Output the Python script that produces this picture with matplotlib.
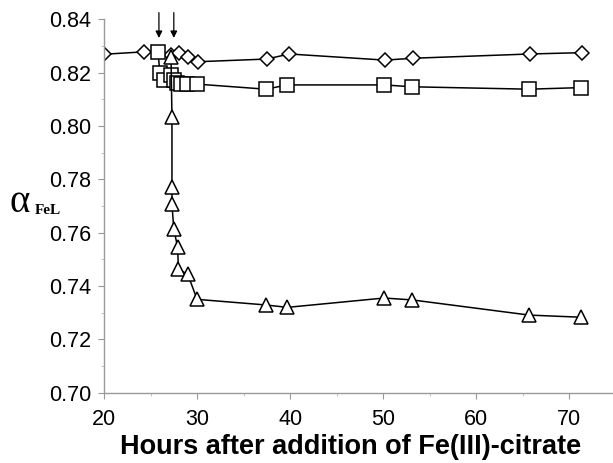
import matplotlib
matplotlib.use("Agg")
import matplotlib.pyplot as plt
from matplotlib.ticker import MultipleLocator

# ─── Data ────────────────────────────────────────────────────────────────────
diamond_x = [20.0, 24.3, 27.2, 28.1, 29.0, 30.1, 37.5, 39.9, 50.2, 53.2, 65.8, 71.4]
diamond_y = [0.8269, 0.8278, 0.8265, 0.8273, 0.8258, 0.8241, 0.8251, 0.8270,
             0.8247, 0.8254, 0.8270, 0.8275]

square_x = [25.8, 26.0, 26.4, 27.2, 27.5, 27.8, 28.3, 28.9, 30.0,
            37.4, 39.7, 50.1, 53.1, 65.7, 71.3]
square_y = [0.8278, 0.8200, 0.8172, 0.8191, 0.8172, 0.8162, 0.8157, 0.8157, 0.8157,
            0.8138, 0.8154, 0.8154, 0.8147, 0.8138, 0.8144]

triangle_x = [27.2, 27.3, 27.3, 27.3, 27.5, 27.9, 28.0, 29.0, 30.0,
              37.4, 39.7, 50.1, 53.1, 65.7, 71.3]
triangle_y = [0.8258, 0.8035, 0.7770, 0.7706, 0.7613, 0.7547, 0.7463, 0.7444, 0.7350,
              0.7329, 0.7320, 0.7355, 0.7348, 0.7291, 0.7283]

arrow_x = [25.9, 27.5]
xticks = [20, 30, 40, 50, 60, 70]
yticks = [0.70, 0.72, 0.74, 0.76, 0.78, 0.80, 0.82, 0.84]

# ─── Plot ────────────────────────────────────────────────────────────────────
plt.rcParams["font.family"] = ["Liberation Sans", "DejaVu Sans"]

fig = plt.figure(figsize=(6.13, 4.63), dpi=100)
ax = fig.add_axes([0.1697, 0.1518, 0.8303, 0.8065])

style = dict(color="black", lw=1.1, mfc="white", mec="black", mew=1.1)
ax.plot(diamond_x, diamond_y, marker="D", ms=7.5, **style)
ax.plot(square_x, square_y, marker="s", ms=9.5, **style)
ax.plot(triangle_x, triangle_y, marker="^", ms=10.5, **style)

for xa in arrow_x:
    ax.annotate("", xy=(xa, 0.8330), xytext=(xa, 0.8425),
                arrowprops=dict(arrowstyle="-|>", color="black", lw=0.9,
                                mutation_scale=10, shrinkA=0, shrinkB=0),
                annotation_clip=False)

ax.set_xlim(20, 74.7)
ax.set_ylim(0.70, 0.84)
ax.set_xticks(xticks)
ax.set_yticks(yticks)
ax.set_yticklabels([f"{v:.2f}" for v in yticks])
ax.xaxis.set_minor_locator(MultipleLocator(5))
ax.yaxis.set_minor_locator(MultipleLocator(0.01))

for side in ["top", "right"]:
    ax.spines[side].set_visible(False)
for side in ["left", "bottom"]:
    ax.spines[side].set_color("#999999")
    ax.spines[side].set_linewidth(1.0)

ax.tick_params(axis="both", which="major", labelsize=15.5, color="#999999",
               length=4, width=0.8, direction="out")
ax.tick_params(axis="both", which="minor", color="#bbbbbb", length=2, width=0.6)
ax.tick_params(axis="y", pad=5)
ax.tick_params(axis="x", pad=8)

fig.text(351 / 613, 1 - 447 / 463, "Hours after addition of Fe(III)-citrate",
         fontsize=19.5, fontweight="bold", ha="center", va="center")

fig.text(0.016, 1 - 203 / 463, "α", family="Liberation Serif", fontsize=28,
         va="center", ha="left")
fig.text(0.056, 1 - 211 / 463, "FeL", family="Liberation Serif", fontsize=11,
         fontweight="bold", va="center", ha="left")

fig.savefig("out.png", dpi=100)
